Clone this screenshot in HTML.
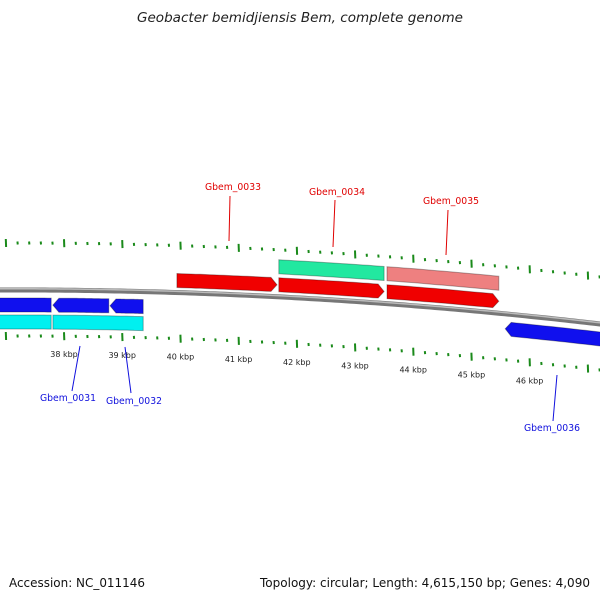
<!DOCTYPE html>
<html><head><meta charset="utf-8"><style>
body{margin:0;background:#fff;}
svg{display:block;font-family:"DejaVu Sans","Liberation Sans",sans-serif;}
</style></head><body>
<svg id="map" width="600" height="600" viewBox="0 0 600 600">
<text x="137" y="22" textLength="326" lengthAdjust="spacingAndGlyphs" font-size="13" font-style="italic" fill="#222">Geobacter bemidjiensis Bem, complete genome</text>
<text x="9" y="587" textLength="136" lengthAdjust="spacingAndGlyphs" font-size="12" fill="#111">Accession: NC_011146</text>
<text x="260" y="587" textLength="330" lengthAdjust="spacingAndGlyphs" font-size="12" fill="#111">Topology: circular; Length: 4,615,150 bp; Genes: 4,090</text>
<g id="layer"></g>
</svg>
<script>
// data
const majorTicks = [37, 38, 39, 40, 41, 42, 43, 44, 45, 46, 47];
const tickLabels = ["37 kbp","38 kbp","39 kbp","40 kbp","41 kbp","42 kbp","43 kbp","44 kbp","45 kbp","46 kbp","47 kbp"];
const geneNames = ["Gbem_0031","Gbem_0032","Gbem_0033","Gbem_0034","Gbem_0035","Gbem_0036"];
const geneStarts = [37.81, 38.79, 39.94, 41.69, 43.55, 45.58];
const geneEnds   = [38.77, 39.36, 41.66, 43.5, 45.47, 47.5];
const geneStrand = [-1, -1, 1, 1, 1, -1];
// extra reverse gene segment left of 0031
const extraStarts = [36.5];
const extraEnds = [37.78];
// CDS track features
const cdsStarts = [36.5, 37.81, 41.69, 43.55];
const cdsEnds   = [37.78, 39.36, 43.5, 45.47];
const cdsColors = ["#00f0f0", "#00f0f0", "#22e8a0", "#ee8080"];

const NS = "http://www.w3.org/2000/svg";
const layer = document.getElementById('layer');
const xOf = kb => 64 + (kb - 38) * 58.2;
const yc = x => 290 - 0.00333 * x + 0.0001 * x * x;
function mk(tag, attrs){const e=document.createElementNS(NS,tag);for(const k in attrs)e.setAttribute(k,attrs[k]);layer.appendChild(e);return e;}

// backbone
let d="";for(let x=-5;x<=605;x+=5){d+=(x===-5?"M":"L")+x+","+(yc(x)).toFixed(2);}
const bb=mk('path',{d:d,stroke:"#777","stroke-width":5,fill:"none"});


const bb2=mk('path',{d:d,stroke:"#bbb","stroke-width":1.5,fill:"none",transform:"translate(0,-1.2)"});



// ticks
for(let t=36.0;t<=47.8;t+=0.2){
  const kb=Math.round(t*10)/10;
  const x=xOf(kb);
  if(x<-2||x>602)continue;
  const major=Math.abs(kb-Math.round(kb))<0.01;
  const len=major?8:3;
  [-47,46].forEach(off=>{
    const y=yc(x)+off;
    const tk=mk('line',{x1:x,x2:x+0.3,y1:y-len/2,y2:y+len/2,stroke:"#1a8a1a","stroke-width":2});
    
    
  });
}
majorTicks.forEach((kb,i)=>{
  const x=xOf(kb);if(x<20||x>580)return;
  const tl=mk('text',{x:x,y:yc(x)+67,"font-size":8,"text-anchor":"middle",fill:"#222"});
  tl.textContent=tickLabels[i];
  
  
});

function feature(k1,k2,off,h,fill,dir,name){
  const x1=xOf(k1),x2=xOf(k2);const tip=6;
  const a=dir===-1?x1+tip:x1, b=dir===1?x2-tip:x2;
  let top=[],bot=[];
  for(let i=0;i<=20;i++){const x=a+(b-a)*i/20;top.push([x,yc(x)+off-h/2]);bot.push([x,yc(x)+off+h/2]);}
  let pts=[];
  if(dir===-1)pts.push([x1,yc(x1)+off]);
  pts=pts.concat(top);
  if(dir===1)pts.push([x2,yc(x2)+off]);
  pts=pts.concat(bot.reverse());
  const p=mk('polygon',{points:pts.map(q=>q[0].toFixed(1)+","+q[1].toFixed(1)).join(" "),fill:fill,stroke:"rgba(0,0,0,0.3)","stroke-width":1});
  
  
}
cdsStarts.forEach((s,i)=>{
  const off=cdsStarts[i]>40?-30:32;
  feature(s,cdsEnds[i],off,14,cdsColors[i],0,'cds-feature');
});
geneStarts.forEach((s,i)=>{
  const off=geneStrand[i]===1?-12:15;
  feature(s,geneEnds[i],off,14,geneStrand[i]===1?"#f00000":"#1010ee",geneStrand[i],'gene-'+geneNames[i].toLowerCase());
});
extraStarts.forEach((s,i)=>feature(s,extraEnds[i],15,14,"#1010ee",-1,'gene-segment'));

// labels
const labelPos=[[68,401],[134,404],[233,190],[337,195],[451,204],[552,431]];
const lineEnds=[[80,346,72,391],[125,347,131,393],[230,196,229,241],[335,200,333,247],[448,210,446,255],[557,375,553,421]];
geneNames.forEach((n,i)=>{
  const col=geneStrand[i]===1?"#e00000":"#1010dd";
  const l=lineEnds[i];
  const ln=mk('line',{x1:l[0],y1:l[1],x2:l[2],y2:l[3],stroke:col,"stroke-width":1});
  
  
  const t=mk('text',{x:labelPos[i][0],y:labelPos[i][1],"font-size":10,"text-anchor":"middle",fill:col,textLength:56,lengthAdjust:"spacingAndGlyphs"});
  t.textContent=n;
  
  
});
</script>
</body></html>
